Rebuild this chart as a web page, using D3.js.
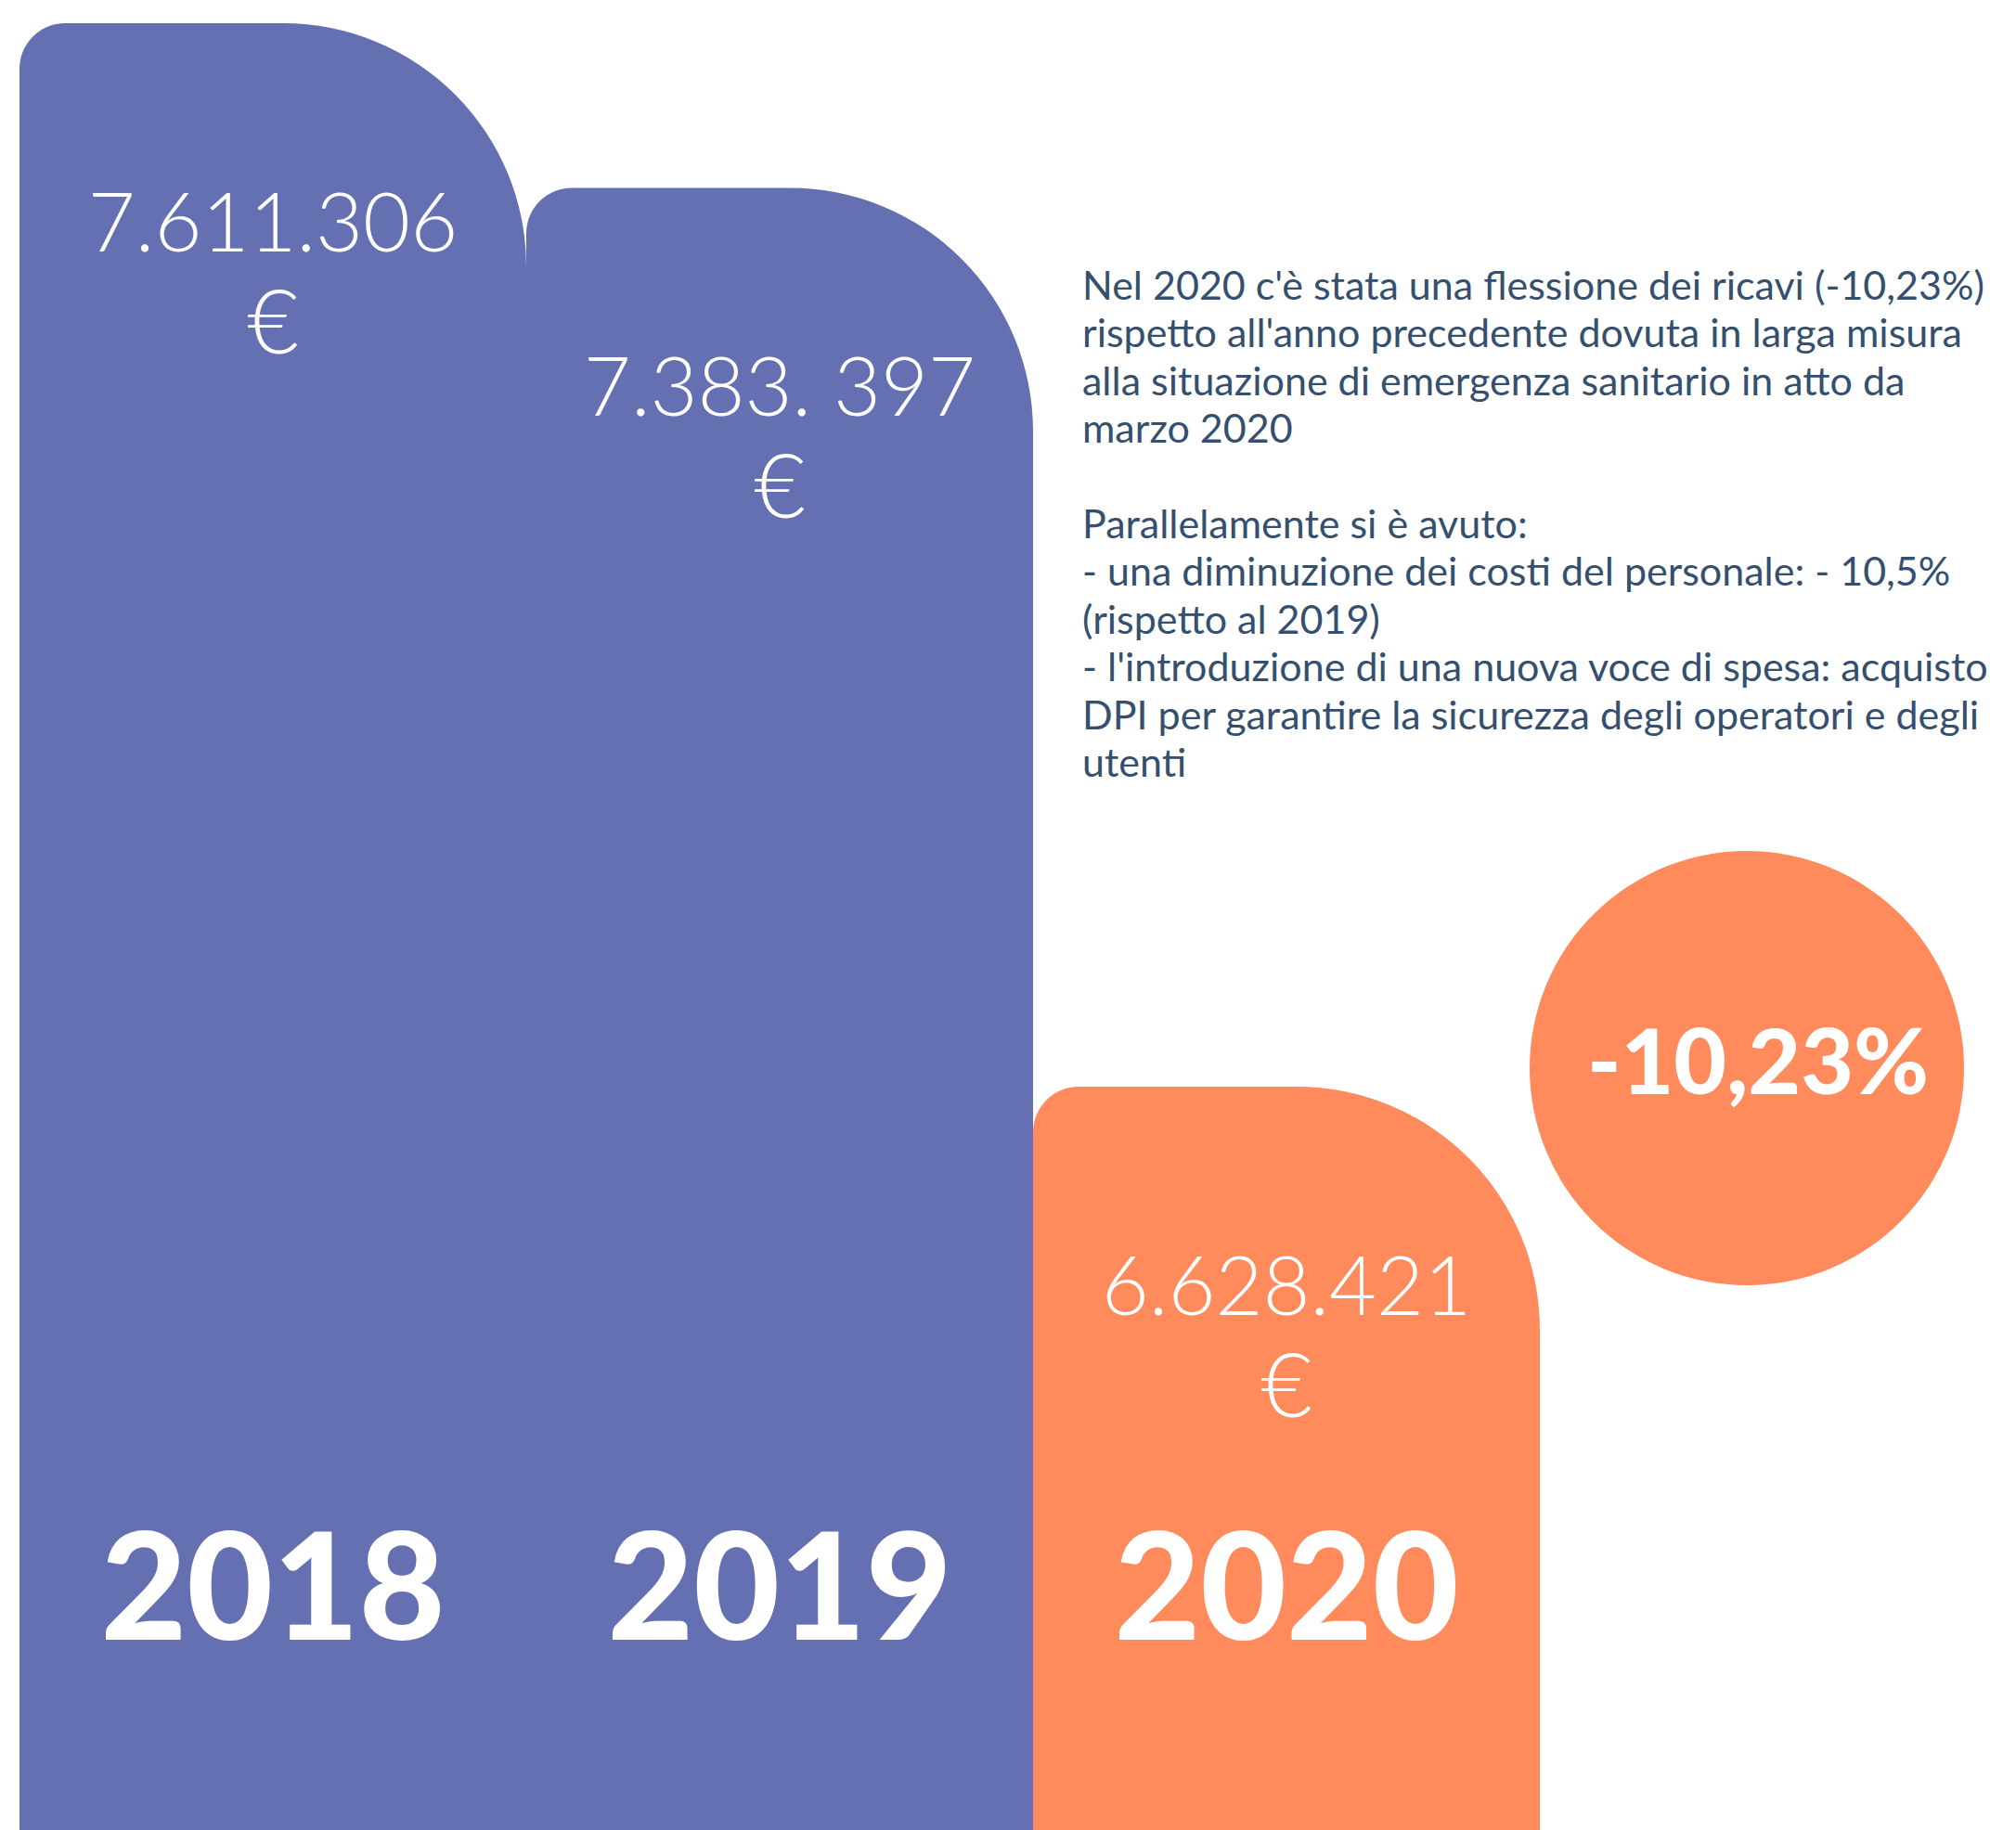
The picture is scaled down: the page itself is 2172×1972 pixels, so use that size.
<!DOCTYPE html>
<html lang="it">
<head>
<meta charset="utf-8">
<title>Ricavi 2018–2020</title>
<script src="https://cdn.jsdelivr.net/npm/d3@7"></script>
<style>
  html, body { margin: 0; padding: 0; background: #ffffff; }
  svg { display: block; }
</style>
</head>
<body>
<svg id="chart"></svg>
<script>
// Revenue per year (euro)
const years = ["2018", "2019", "2020"];
const revenue = [7611306, 7383397, 6628421];
const valueLabels = ["7.611.306", "7.383. 397", "6.628.421"];
const currencyLabel = "€";

// Explanatory note, one entry per printed line
const noteLines = [
  "Nel 2020 c'è stata una flessione dei ricavi (-10,23%)",
  "rispetto all'anno precedente dovuta in larga misura",
  "alla situazione di emergenza sanitario in atto da",
  "marzo 2020",
  "",
  "Parallelamente si è avuto:",
  "- una diminuzione dei costi del personale: - 10,5%",
  "(rispetto al 2019)",
  "- l'introduzione di una nuova voce di spesa: acquisto",
  "DPI per garantire la sicurezza degli operatori e degli",
  "utenti"
];

const W = 2172, H = 1972;
const PURPLE = "#6570b2", ORANGE = "#ff8a5c", INK = "#34506e";
const highlight = "2020";

const svg = d3.select("#chart").attr("width", W).attr("height", H)
  .attr("viewBox", `0 0 ${W} ${H}`);

const x = d3.scaleBand().domain(years).range([21, 1659]).padding(0);

// Bar tops follow a steep inverse power scale so the year-on-year gaps read clearly
const y = d3.scalePow().exponent(-6)
  .domain([d3.min(revenue), d3.max(revenue)])
  .range([1171, 25]);

const rows = years.map((yr, i) => ({ year: yr, value: revenue[i], label: valueLabels[i] }));

function barPath(d) {
  const x0 = x(d.year), x1 = x0 + x.bandwidth();
  const top = y(d.value), bottom = H;
  const rSmall = x.bandwidth() * 0.09;
  const rBig = x.bandwidth() * 0.48;
  const p = d3.path();
  p.moveTo(x0, bottom);
  p.lineTo(x0, top + rSmall);
  p.arcTo(x0, top, x0 + rSmall, top, rSmall);
  p.lineTo(x1 - rBig, top);
  p.arcTo(x1, top, x1, top + rBig, rBig);
  p.lineTo(x1, bottom);
  p.closePath();
  return p.toString();
}

svg.append("g").selectAll("path")
  .data(rows)
  .join("path")
  .attr("d", barPath)
  .attr("fill", d => d.year === highlight ? ORANGE : PURPLE);

// Value labels inside each bar
const valueG = svg.append("g")
  .attr("fill", "#ffffff")
  .attr("font-family", "Lato, 'Open Sans', sans-serif")
  .attr("font-weight", 300)
  .attr("text-anchor", "middle");

valueG.selectAll("text.amount")
  .data(rows)
  .join("text")
  .attr("class", "amount")
  .attr("x", d => x(d.year) + x.bandwidth() / 2)
  .attr("y", d => y(d.value) + 246)
  .attr("font-size", 88)
  .text(d => d.label);

valueG.selectAll("text.currency")
  .data(rows)
  .join("text")
  .attr("class", "currency")
  .attr("x", d => x(d.year) + x.bandwidth() / 2)
  .attr("y", d => y(d.value) + 356)
  .attr("font-size", 96)
  .text(currencyLabel);

// Year labels near the foot of each bar
svg.append("g").selectAll("text")
  .data(rows)
  .join("text")
  .attr("x", d => x(d.year) + x.bandwidth() / 2)
  .attr("y", 1767)
  .attr("text-anchor", "middle")
  .attr("fill", "#ffffff")
  .attr("font-family", "Lato, 'Open Sans', sans-serif")
  .attr("font-weight", 900)
  .attr("font-size", 160)
  .text(d => d.year);

// Note text on the right
const note = svg.append("text")
  .attr("fill", INK)
  .attr("font-family", "Lato, 'Open Sans', sans-serif")
  .attr("font-weight", 400)
  .attr("font-size", 43);

note.selectAll("tspan")
  .data(noteLines)
  .join("tspan")
  .attr("x", 1166)
  .attr("y", (d, i) => 323 + i * 51.4)
  .text(d => d);

// Percentage change badge, computed from the last two years
const change = (revenue[2] - revenue[1]) / revenue[1];
const changeText = d3.format(".2%")(change).replace("−", "-").replace(".", ",");

const badge = svg.append("g").attr("transform", "translate(1882,1151)");
badge.append("circle").attr("r", 234).attr("fill", ORANGE);
badge.append("text")
  .attr("x", 12)
  .attr("y", 28)
  .attr("text-anchor", "middle")
  .attr("fill", "#ffffff")
  .attr("font-family", "Lato, 'Open Sans', sans-serif")
  .attr("font-weight", 900)
  .attr("font-size", 98)
  .text(changeText);
</script>
</body>
</html>
